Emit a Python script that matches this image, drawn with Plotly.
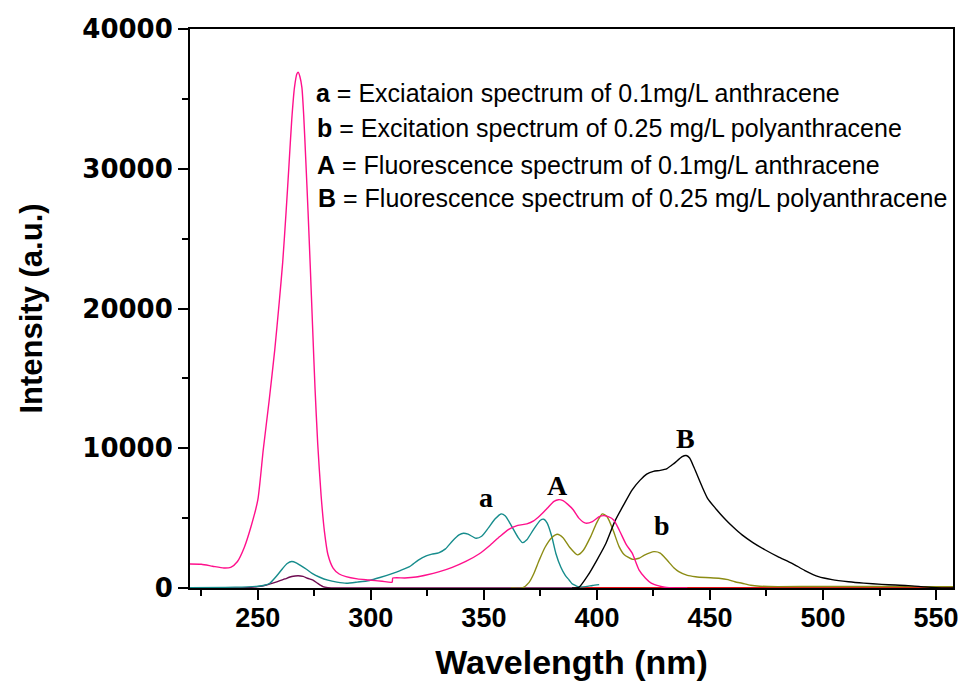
import plotly.graph_objects as go

# ---- spectra (wavelength in nm, intensity in a.u.) ----
pink_wl = [220, 225, 230, 235, 238, 241, 244, 247, 250, 252.4, 255, 257.5, 259.5, 261,
           262.5, 263.8, 265, 266.2, 267.3, 267.9, 268.6, 269.5, 270.3, 271.2, 272.2, 273.2,
           274.2, 275.3, 276.5, 278, 279.5, 281, 283.3, 286, 289, 294, 299, 305, 309.4, 309.7,
           315, 320, 324.5, 330, 336, 342, 348, 353, 357, 361, 365, 369, 372, 375, 378, 381,
           383, 385, 387, 389.5, 392, 395, 398, 401, 403, 405, 407.5, 410, 413, 415.6, 418.6,
           421.5, 424, 427.4, 430, 435, 440]
pink_int = [1720, 1700, 1560, 1430, 1480, 1900, 2900, 4400, 6300, 9890, 13400, 17060, 20500,
            23300, 26900, 30300, 33500, 35800, 36800, 36900, 36600, 35800, 33800, 30680,
            27000, 23000, 18800, 14300, 10300, 6600, 4000, 2400, 1430, 1000, 810, 650, 570,
            480, 420, 710, 720, 790, 930, 1150, 1480, 1900, 2450, 3100, 3680, 4200, 4480,
            4590, 4800, 5200, 5700, 6200, 6320, 6250, 6000, 5600, 5000, 4640, 4750, 5100,
            5180, 5100, 4850, 4100, 3100, 2490, 1300, 700, 350, 150, 50, 0, 0]

teal_wl = [220, 240, 250, 253, 255.3, 258, 261, 263, 265, 267, 269, 271.5, 274, 277.4, 281,
           285, 289.2, 294, 299.4, 304, 309.7, 313, 317.1, 321, 324.5, 327, 330, 333, 336,
           339, 341, 343, 346.5, 349, 352, 355, 357.6, 359.5, 362, 365, 367.1, 369, 372, 375,
           376.5, 378, 380, 381.8, 384, 386, 387.7, 389, 390.6, 392, 395, 398, 401]
teal_int = [30, 60, 130, 200, 340, 800, 1400, 1750, 1900, 1800, 1600, 1340, 1050, 770, 560,
            420, 340, 420, 540, 750, 1050, 1250, 1530, 2000, 2300, 2420, 2520, 2800, 3350,
            3800, 3920, 3850, 3560, 3700, 4300, 4950, 5300, 5150, 4500, 3650, 3250, 3450,
            4200, 4850, 4920, 4650, 3700, 2490, 1500, 900, 570, 300, 170, 80, 100, 180, 240]

olive_wl = [362, 367, 370, 372, 374.5, 377, 380, 382.5, 385, 388, 391.4, 394, 397, 400, 402.4,
            404.5, 407, 409.8, 412, 415.6, 418.6, 421, 425.2, 428, 431, 434, 436.2, 440, 443.6,
            448, 453.9, 458, 461, 464.2, 468, 472, 480, 500, 520, 540, 557.5]
olive_int = [0, 0, 400, 1000, 2000, 2900, 3600, 3850, 3600, 2900, 2370, 2700, 3600, 4700, 5300,
             5100, 4200, 2960, 2400, 2060, 2130, 2350, 2600, 2500, 2000, 1450, 1170, 900, 810,
             750, 700, 600, 450, 340, 200, 130, 100, 110, 110, 100, 100]

black_wl = [389, 392, 396, 400, 404, 408, 412, 415.6, 419, 422, 425, 428, 431, 434, 437.7,
            439.5, 441, 443, 446.5, 449, 452.4, 456, 460, 464.2, 469, 474.5, 480, 486.3, 492,
            498, 504, 511.3, 518, 526, 532, 537.7, 545, 550, 557.5]
black_int = [0, 50, 900, 2000, 3200, 4800, 6000, 7020, 7700, 8150, 8350, 8420, 8550, 8900,
             9400, 9480, 9300, 8600, 7260, 6400, 5710, 5050, 4400, 3800, 3250, 2720, 2250,
             1770, 1250, 810, 600, 450, 350, 260, 210, 170, 80, 30, 0]

purple_wl = [220, 245, 250, 253.8, 258, 262, 265, 267.8, 270, 272, 274.4, 276.5, 278.8, 281,
             285, 320, 360, 400]
purple_int = [0, 30, 100, 215, 420, 650, 820, 880, 830, 700, 570, 330, 100, 30, 0, 0, 0, 0]

red_wl = [390, 430, 480, 520, 557.5]
red_int = [20, 20, 20, 20, 20]

# ---- axis ticks ----
x_tickvals = [250, 300, 350, 400, 450, 500, 550]
y_tickvals = [0, 10000, 20000, 30000, 40000]

# ---- curve labels and legend text ----
curve_labels = ["a", "A", "B", "b"]
curve_label_wl = [351.0, 382.6, 439.2, 428.6]
curve_label_int = [6500, 7350, 10700, 4450]

legend_lines = [
    "<b>a</b> = Exciataion spectrum of 0.1mg/L anthracene",
    "<b>b</b> = Excitation spectrum of 0.25 mg/L polyanthracene",
    "<b>A</b> = Fluorescence spectrum of 0.1mg/L anthracene",
    "<b>B</b> = Fluorescence spectrum of 0.25 mg/L polyanthracene",
]
legend_x = [0.1625, 0.1638, 0.1638, 0.165]
legend_y = [0.8850, 0.8230, 0.7570, 0.6980]

series = [
    (purple_wl, purple_int, "#6E0A50"),
    (red_wl, red_int, "#E8101A"),
    (teal_wl, teal_int, "#168C8C"),
    (olive_wl, olive_int, "#8C8C14"),
    (black_wl, black_int, "#000000"),
    (pink_wl, pink_int, "#FF108C"),
]

fig = go.Figure()
for wl, inten, color in series:
    fig.add_trace(go.Scatter(
        x=wl, y=inten, mode="lines",
        line=dict(color=color, width=1.4, shape="spline", smoothing=0.6),
        showlegend=False, hoverinfo="skip",
    ))

for txt, wl, inten in zip(curve_labels, curve_label_wl, curve_label_int):
    fig.add_annotation(
        x=wl, y=inten, xref="x", yref="y", text=f"<b>{txt}</b>", showarrow=False,
        xanchor="center", yanchor="middle",
        font=dict(family="Liberation Serif", size=28, color="black"),
    )

for txt, px, py in zip(legend_lines, legend_x, legend_y):
    fig.add_annotation(
        x=px, y=py, xref="paper", yref="paper", text=txt, showarrow=False,
        xanchor="left", yanchor="middle",
        font=dict(family="Liberation Sans", size=25, color="black"),
    )

axis_common = dict(
    showline=True, linewidth=2, linecolor="black", mirror=True,
    ticks="outside", tickwidth=2, tickcolor="black", ticklen=10,
    showgrid=False, zeroline=False, layer="below traces", automargin=False,
)

fig.update_xaxes(
    range=[220, 557.5], tickvals=x_tickvals, ticklabeloverflow="allow",
    ticklabelstandoff=-5,
    tickfont=dict(family="Liberation Sans", size=27, weight="bold", color="black"),
    minor=dict(tickvals=[225, 275, 325, 375, 425, 475, 525], ticks="outside", ticklen=6,
               tickwidth=2, tickcolor="black", showgrid=False),
    title=dict(text="<b>Wavelength (nm)</b>", standoff=18,
               font=dict(family="Liberation Sans", size=34, color="black")),
    **axis_common,
)
fig.update_yaxes(
    range=[0, 40000], tickvals=y_tickvals, tickformat="d",
    tickfont=dict(family="DejaVu Sans", size=26, weight="bold", color="black"),
    minor=dict(tickvals=[5000, 15000, 25000, 35000], ticks="outside", ticklen=6,
               tickwidth=2, tickcolor="black", showgrid=False),
    title=dict(text="<b>Intensity (a.u.)</b>", standoff=30,
               font=dict(family="Liberation Sans", size=31, color="black")),
    **axis_common,
)

fig.update_layout(
    width=958, height=687,
    margin=dict(l=190, r=5, t=29, b=99),
    paper_bgcolor="white", plot_bgcolor="white",
)

fig.write_html("out.html")
